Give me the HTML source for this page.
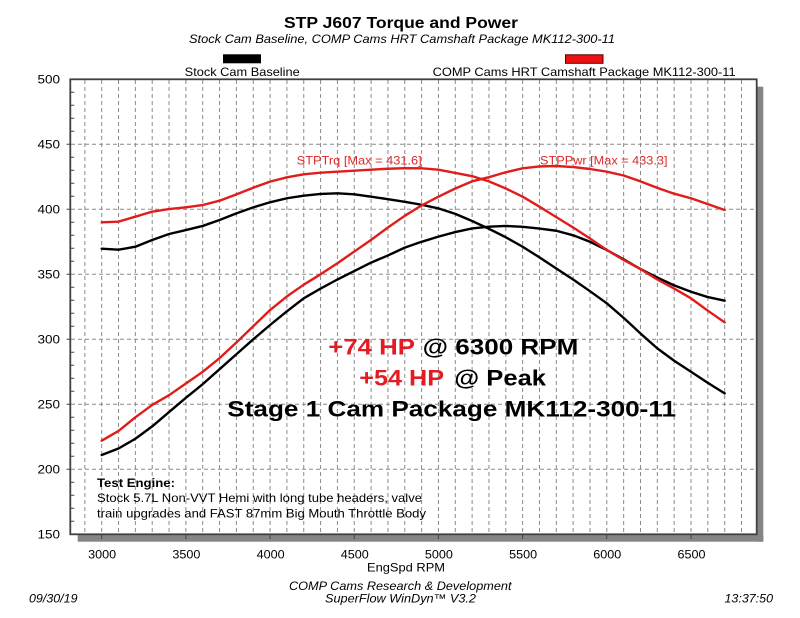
<!DOCTYPE html>
<html>
<head>
<meta charset="utf-8">
<style>
html,body{margin:0;padding:0;background:#fff;}
svg{display:block;}
text{font-family:"Liberation Sans",Arial,sans-serif;}
</style>
</head>
<body>
<svg width="800" height="618" viewBox="0 0 800 618" xmlns="http://www.w3.org/2000/svg">
<rect x="0" y="0" width="800" height="618" fill="#fff"/>

<!-- Titles -->
<text x="284" y="28" font-size="16" font-weight="bold" fill="#000" textLength="234" lengthAdjust="spacingAndGlyphs">STP J607 Torque and Power</text>
<text x="189" y="43" font-size="12" font-style="italic" fill="#000" textLength="426" lengthAdjust="spacingAndGlyphs">Stock Cam Baseline, COMP Cams HRT Camshaft Package MK112-300-11</text>

<!-- Legend -->
<rect x="223" y="54.3" width="38" height="9" fill="#000"/>
<rect x="565.5" y="54.8" width="37.5" height="8.5" fill="#ee1111" stroke="#550000" stroke-width="1"/>
<text x="184.7" y="76" font-size="12" fill="#000" textLength="115" lengthAdjust="spacingAndGlyphs">Stock Cam Baseline</text>
<text x="432.6" y="76" font-size="12" fill="#000" textLength="303" lengthAdjust="spacingAndGlyphs">COMP Cams HRT Camshaft Package MK112-300-11</text>

<!-- Shadow -->
<rect x="757.5" y="86.7" width="5.8" height="455" fill="#858585"/>
<rect x="77.7" y="535" width="685.6" height="6.7" fill="#858585"/>

<!-- Plot area -->
<rect x="70.3" y="79.3" width="686.4" height="455" fill="#fff"/>

<!-- Vertical gridlines -->
<g stroke="#8a8a8a" stroke-width="1" stroke-dasharray="4,3" fill="none">
<path d="M84.86 80V534 M101.7 80V534 M118.54 80V534 M135.37 80V534 M152.21 80V534 M169.05 80V534 M185.89 80V534 M202.72 80V534 M219.56 80V534 M236.4 80V534 M253.23 80V534 M270.07 80V534 M286.91 80V534 M303.75 80V534 M320.58 80V534 M337.42 80V534 M354.26 80V534 M371.09 80V534 M387.93 80V534 M404.77 80V534 M421.61 80V534 M438.44 80V534 M455.28 80V534 M472.12 80V534 M488.95 80V534 M505.79 80V534 M522.63 80V534 M539.47 80V534 M556.3 80V534 M573.14 80V534 M589.98 80V534 M606.81 80V534 M623.65 80V534 M640.49 80V534 M657.33 80V534 M674.16 80V534 M691 80V534 M707.84 80V534 M724.67 80V534 M741.51 80V534"/>
</g>
<!-- Horizontal gridlines -->
<g stroke="#8a8a8a" stroke-width="1" stroke-dasharray="4,3" fill="none">
<path d="M71 144.3H756 M71 209.3H756 M71 274.3H756 M71 339.3H756 M71 404.3H756 M71 469.3H756"/>
</g>

<!-- Minor y ticks -->
<g stroke="#444" stroke-width="1" fill="none">
<path d="M70.3 92.3h4 M70.3 105.3h4 M70.3 118.3h4 M70.3 131.3h4 M70.3 157.3h4 M70.3 170.3h4 M70.3 183.3h4 M70.3 196.3h4 M70.3 222.3h4 M70.3 235.3h4 M70.3 248.3h4 M70.3 261.3h4 M70.3 287.3h4 M70.3 300.3h4 M70.3 313.3h4 M70.3 326.3h4 M70.3 352.3h4 M70.3 365.3h4 M70.3 378.3h4 M70.3 391.3h4 M70.3 417.3h4 M70.3 430.3h4 M70.3 443.3h4 M70.3 456.3h4 M70.3 482.3h4 M70.3 495.3h4 M70.3 508.3h4 M70.3 521.3h4"/>
<path d="M66.5 144.3h4 M66.5 209.3h4 M66.5 274.3h4 M66.5 339.3h4 M66.5 404.3h4 M66.5 469.3h4"/>
<path d="M101.7 534v5 M185.89 534v5 M270.07 534v5 M354.26 534v5 M438.44 534v5 M522.63 534v5 M606.81 534v5 M691 534v5"/>
</g>

<!-- Plot border -->
<rect x="70.3" y="79.3" width="686.4" height="455" fill="none" stroke="#404040" stroke-width="1.8"/>

<!-- Curves -->
<g transform="matrix(0.16837 0 0 -1.3 -403.41 729.3)" fill="none" stroke-linejoin="round" stroke-linecap="round">
<polyline vector-effect="non-scaling-stroke" stroke="#000" stroke-width="2.4" points="3000,369.7 3100,368.9 3200,371.2 3300,376.4 3400,381 3500,384 3600,387.2 3700,391.8 3800,396.9 3900,401.5 4000,405.4 4100,408.5 4200,410.5 4300,411.8 4400,412.3 4500,411.5 4600,409.7 4700,407.8 4800,405.8 4900,403.5 5000,400.7 5100,396.5 5200,391 5300,385 5400,378.5 5500,371.2 5600,363 5700,354.5 5800,346 5900,337 6000,327.7 6100,316.5 6200,304.5 6300,293 6400,283.5 6500,275 6600,266.5 6700,258.4"/>
<polyline vector-effect="non-scaling-stroke" stroke="#000" stroke-width="2.4" points="3000,211 3100,216 3200,223.5 3300,233 3400,244 3500,255 3600,265.5 3700,277 3800,288.5 3900,300 4000,311 4100,321.5 4200,331.5 4300,339 4400,346 4500,352.5 4600,359 4700,364.5 4800,370.5 4900,375 5000,379 5100,382.5 5200,385.3 5300,386.6 5400,387.2 5500,386.5 5600,385.2 5700,383.5 5800,380 5900,375 6000,368.7 6100,361.5 6200,354 6300,347.5 6400,341.5 6500,336.6 6600,332.5 6700,329.7"/>
<polyline vector-effect="non-scaling-stroke" stroke="#e01c1c" stroke-width="2.4" points="3000,390 3100,390.5 3200,394.3 3300,398.2 3400,400.2 3500,401.5 3600,403.3 3700,406.6 3800,411.5 3900,416.6 4000,421.3 4100,424.6 4200,426.9 4300,428.2 4400,428.9 4500,429.7 4600,430.5 4700,431.2 4800,431.6 4900,431.5 5000,430.5 5100,428 5200,425.5 5300,421.5 5400,416 5500,409.7 5600,402 5700,394 5800,386 5900,377.5 6000,368.7 6100,361 6200,354 6300,346 6400,339 6500,331.5 6600,322 6700,313"/>
<polyline vector-effect="non-scaling-stroke" stroke="#e01c1c" stroke-width="2.4" points="3000,222 3100,229.5 3200,240 3300,249.5 3400,257 3500,266 3600,275 3700,285.5 3800,297.5 3900,310 4000,322.5 4100,333 4200,342 4300,350 4400,358.5 4500,367.5 4600,376.5 4700,386 4800,395 4900,403 5000,409.7 5100,416 5200,421.5 5300,424.7 5400,428.5 5500,431.5 5600,433 5700,433.3 5800,432.5 5900,431 6000,428.9 6100,426 6200,421.5 6300,416.5 6400,412 6500,408.5 6600,404 6700,399.5"/>
</g>

<!-- Curve labels -->
<text x="296.7" y="164.5" font-size="12" fill="#dd2a2a" textLength="125" lengthAdjust="spacingAndGlyphs">STPTrq [Max = 431.6]</text>
<text x="540" y="164.5" font-size="12" fill="#dd2a2a" textLength="127.5" lengthAdjust="spacingAndGlyphs">STPPwr [Max = 433.3]</text>

<!-- Annotations -->
<text x="328.3" y="354.3" font-size="22" font-weight="bold" fill="#e31b23" textLength="86.7" lengthAdjust="spacingAndGlyphs">+74 HP</text>
<text x="422.7" y="354.3" font-size="22" font-weight="bold" fill="#000" textLength="155.6" lengthAdjust="spacingAndGlyphs">@ 6300 RPM</text>
<text x="359.3" y="385.3" font-size="22" font-weight="bold" fill="#e31b23" textLength="84.7" lengthAdjust="spacingAndGlyphs">+54 HP</text>
<text x="454.3" y="385.3" font-size="22" font-weight="bold" fill="#000" textLength="91.7" lengthAdjust="spacingAndGlyphs">@ Peak</text>
<text x="227.3" y="416.5" font-size="22.5" font-weight="bold" fill="#000" textLength="448.7" lengthAdjust="spacingAndGlyphs">Stage 1 Cam Package MK112-300-11</text>

<!-- Test engine -->
<text x="97" y="487" font-size="12" font-weight="bold" fill="#000" textLength="78" lengthAdjust="spacingAndGlyphs">Test Engine:</text>
<text x="97" y="502" font-size="12" fill="#000" textLength="325" lengthAdjust="spacingAndGlyphs">Stock 5.7L Non-VVT Hemi with long tube headers, valve</text>
<text x="97" y="517.5" font-size="12" fill="#000" textLength="329" lengthAdjust="spacingAndGlyphs">train upgrades and FAST 87mm Big Mouth Throttle Body</text>

<!-- Y labels -->
<g font-size="11.5" fill="#000" text-anchor="end">
<text x="60" y="83.6" textLength="22.5" lengthAdjust="spacingAndGlyphs">500</text>
<text x="60" y="148.6" textLength="22.5" lengthAdjust="spacingAndGlyphs">450</text>
<text x="60" y="213.6" textLength="22.5" lengthAdjust="spacingAndGlyphs">400</text>
<text x="60" y="278.6" textLength="22.5" lengthAdjust="spacingAndGlyphs">350</text>
<text x="60" y="343.6" textLength="22.5" lengthAdjust="spacingAndGlyphs">300</text>
<text x="60" y="408.6" textLength="22.5" lengthAdjust="spacingAndGlyphs">250</text>
<text x="60" y="473.6" textLength="22.5" lengthAdjust="spacingAndGlyphs">200</text>
<text x="60" y="538.6" textLength="22.5" lengthAdjust="spacingAndGlyphs">150</text>
</g>

<!-- X labels -->
<g font-size="11.5" fill="#000" text-anchor="middle">
<text x="102.2" y="558.5" textLength="28" lengthAdjust="spacingAndGlyphs">3000</text>
<text x="186.4" y="558.5" textLength="28" lengthAdjust="spacingAndGlyphs">3500</text>
<text x="270.6" y="558.5" textLength="28" lengthAdjust="spacingAndGlyphs">4000</text>
<text x="354.8" y="558.5" textLength="28" lengthAdjust="spacingAndGlyphs">4500</text>
<text x="438.9" y="558.5" textLength="28" lengthAdjust="spacingAndGlyphs">5000</text>
<text x="523.1" y="558.5" textLength="28" lengthAdjust="spacingAndGlyphs">5500</text>
<text x="607.3" y="558.5" textLength="28" lengthAdjust="spacingAndGlyphs">6000</text>
<text x="691.5" y="558.5" textLength="28" lengthAdjust="spacingAndGlyphs">6500</text>
</g>
<text x="367" y="571.5" font-size="12" fill="#000" textLength="78" lengthAdjust="spacingAndGlyphs">EngSpd RPM</text>

<!-- Footer -->
<text x="289" y="590" font-size="12" font-style="italic" fill="#000" textLength="222.5" lengthAdjust="spacingAndGlyphs">COMP Cams Research &amp; Development</text>
<text x="325" y="602.5" font-size="12" font-style="italic" fill="#000" textLength="151" lengthAdjust="spacingAndGlyphs">SuperFlow WinDyn™ V3.2</text>
<text x="29" y="602.5" font-size="12" font-style="italic" fill="#000" textLength="48.5" lengthAdjust="spacingAndGlyphs">09/30/19</text>
<text x="724.5" y="602.5" font-size="12" font-style="italic" fill="#000" textLength="48.5" lengthAdjust="spacingAndGlyphs">13:37:50</text>
</svg>
</body>
</html>
